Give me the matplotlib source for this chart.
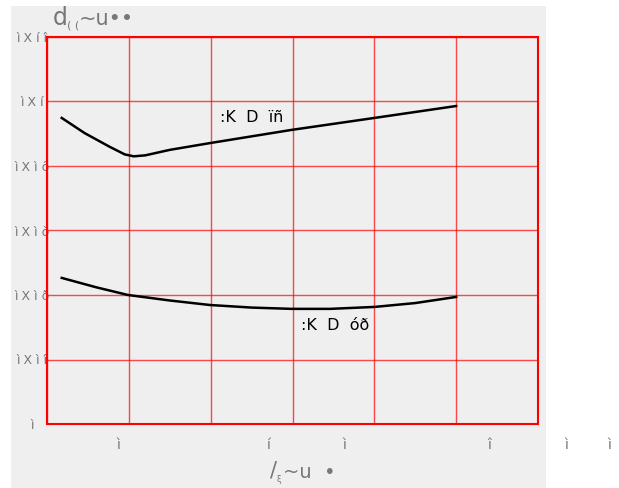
import matplotlib
matplotlib.use("Agg")
from matplotlib import pyplot as plt
from matplotlib.patches import Rectangle
from matplotlib.transforms import blended_transform_factory

# curve values (x in grid units, y in axis units)
upper_x = [0.18, 0.46, 0.77, 0.95, 1.06, 1.20, 1.50, 1.99, 2.99, 4.00, 5.00]
upper_y = [0.0949, 0.0902, 0.0859, 0.0836, 0.0830, 0.0833, 0.0850, 0.0871, 0.0912, 0.0949, 0.0986]
lower_x = [0.18, 0.60, 0.99, 1.50, 1.99, 2.50, 2.99, 3.46, 4.00, 4.50, 5.00]
lower_y = [0.0453, 0.0424, 0.0400, 0.0383, 0.0369, 0.0361, 0.0357, 0.0357, 0.0363, 0.0375, 0.0394]

upper_label = ":K  D  ïñ"
lower_label = ":K  D  óð"

y_ticks = [0, 0.02, 0.04, 0.06, 0.08, 0.10, 0.12]
y_ticklabels = ["ì", "ì X ì î", "ì X ì ð", "ì X ì ò", "ì X ì ô", "ì X í", "ì X í î"]
x_label_pos = [0.87, 2.70, 3.63, 5.41, 6.35, 6.87]
x_ticklabels = ["ì", "í", "ì", "î", "ì", "ì"]

fig = plt.figure(figsize=(6.19, 4.88), dpi=100)
fig.patch.set_facecolor("white")
fig.patches.append(Rectangle((11 / 619, 0), 535 / 619, 482 / 488,
                             transform=fig.transFigure, facecolor="#efefef",
                             edgecolor="none", zorder=-5))

ax = fig.add_axes([47 / 619, 64 / 488, 491 / 619, 387 / 488])
ax.set_facecolor("#efefef")

ax.set_xticks(range(7))
ax.set_xticklabels([])
ax.set_yticks(y_ticks)
ax.set_yticklabels(y_ticklabels, ha="center")
ax.set_xlim(0, 6)
ax.set_ylim(0, 0.12)
ax.tick_params(axis="both", which="both", length=0, labelcolor="#777777", labelsize=9)
ax.tick_params(axis="y", pad=11)
ax.grid(True, which="major", color="red", alpha=0.7, linewidth=1)
for s in ax.spines.values():
    s.set_color("red")
    s.set_linewidth(1.5)
ax.set_axisbelow(True)

# x labels sit off the grid lines (and some past the axis end)
tr = blended_transform_factory(ax.transData, ax.transAxes)
for xp, lab in zip(x_label_pos, x_ticklabels):
    ax.text(xp, -0.055, lab, transform=tr, ha="center", va="center",
            fontsize=10, color="#777777", clip_on=False)

ax.plot(upper_x, upper_y, color="black", lw=1.8)
ax.plot(lower_x, lower_y, color="black", lw=1.8)
ax.text(2.12, 0.0951, upper_label, fontsize=11.5, va="center")
ax.text(3.10, 0.0305, lower_label, fontsize=11.5, va="center")

# title and axis label (garbled glyphs kept as in the source)
fig.text(53 / 619, 1 - 18 / 488, "d", fontsize=17, color="#777777", va="center")
fig.text(67 / 619, 1 - 26 / 488, "( (", fontsize=8, color="#777777", va="center")
fig.text(79 / 619, 1 - 19 / 488, "~u••", fontsize=15, color="#777777", va="center")
fig.text(270 / 619, 1 - 471 / 488, "/", fontsize=15, color="#777777", va="center")
fig.text(277 / 619, 1 - 480 / 488, "ξ", fontsize=6, color="#777777", va="center")
fig.text(283 / 619, 1 - 472 / 488, "~u  •", fontsize=14, color="#777777", va="center")

fig.savefig("out.png", dpi=100)
